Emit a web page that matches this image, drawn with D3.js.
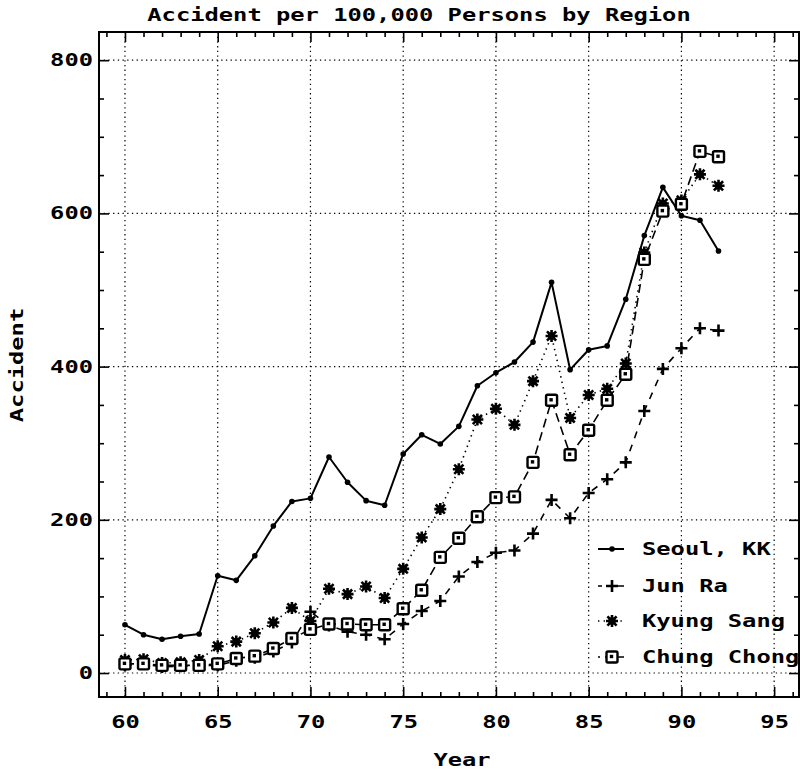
<!DOCTYPE html>
<html>
<head>
<meta charset="utf-8">
<script src="https://cdn.jsdelivr.net/npm/d3@7/dist/d3.min.js"></script>
<style>
  body { margin: 0; background: #fff; }
  text { font-family: "DejaVu Sans Mono", monospace; font-weight: bold; fill: #000; }
</style>
</head>
<body>
<svg id="chart" width="808" height="774"></svg>
<script>
// Accident rate per 100,000 persons, by region, 1960-1992
const years = [60, 61, 62, 63, 64, 65, 66, 67, 68, 69, 70, 71, 72, 73, 74, 75, 76,
               77, 78, 79, 80, 81, 82, 83, 84, 85, 86, 87, 88, 89, 90, 91, 92];

const seoul = [63, 50, 44, 48, 51, 127, 121, 153, 192, 224, 228, 282, 249, 225, 219, 286, 311,
               299, 322, 375, 392, 406, 432, 510, 396, 422, 427, 488, 571, 634, 597, 591, 551];

const junRa = [10, 12, 8, 9, 10, 10, 16, 20, 28, 40, 80, 62, 54, 50, 44, 64, 81,
               94, 126, 145, 157, 160, 182, 226, 202, 235, 253, 275, 342, 397, 424, 450, 447];

const kyungSang = [17, 18, 13, 14, 17, 35, 41, 52, 66, 85, 68, 110, 103, 113, 98, 136, 177,
                   214, 266, 331, 345, 324, 381, 440, 333, 363, 371, 404, 549, 613, 617, 651, 636];

const chungChong = [12, 12, 10, 10, 10, 12, 19, 22, 32, 45, 57, 64, 64, 63, 63, 84, 108,
                    151, 176, 204, 229, 230, 275, 356, 285, 317, 356, 390, 540, 603, 612, 681, 674];

const seriesNames = ["Seoul, KK", "Jun Ra", "Kyung Sang", "Chung Chong"];

const xMajor = [60, 65, 70, 75, 80, 85, 90, 95];
const xMinor = [59, 61, 62, 63, 64, 66, 67, 68, 69, 71, 72, 73, 74, 76, 77, 78, 79,
                81, 82, 83, 84, 86, 87, 88, 89, 91, 92, 93, 94, 96];
const yMajor = [0, 200, 400, 600, 800];
const yMinor = [50, 100, 150, 250, 300, 350, 450, 500, 550, 650, 700, 750];

const titleText = "Accident per 100,000 Persons by Region";
const xTitle = "Year";
const yTitle = "Accident";

// ---- layout ----
const plot = { left: 99, right: 799, top: 32, bottom: 697 };
const charW = 14.3;         // wide plotter-style lettering
const fontSize = 17;

const svg = d3.select("#chart");

const x = d3.scaleLinear().domain([58.6, 96.34]).range([plot.left, plot.right]);
const y = d3.scaleLinear().domain([-31.3, 836.8]).range([plot.bottom, plot.top]);

function widen(sel) {
  sel.each(function () {
    const t = d3.select(this);
    const n = t.text().length;
    t.attr("textLength", n * charW).attr("lengthAdjust", "spacingAndGlyphs");
  });
}

// ---- grid ----
const grid = svg.append("g").attr("stroke", "#000").attr("stroke-width", 1.2)
  .attr("stroke-dasharray", "1.3,3.4");
grid.selectAll("line.gx").data(xMajor).join("line")
  .attr("x1", d => x(d)).attr("x2", d => x(d))
  .attr("y1", plot.top).attr("y2", plot.bottom);
grid.selectAll("line.gy").data(yMajor).join("line")
  .attr("y1", d => y(d)).attr("y2", d => y(d))
  .attr("x1", plot.left).attr("x2", plot.right);

// ---- axes (ticks point inward on all four sides) ----
function styleAxis(g) {
  g.select(".domain").remove();
  g.selectAll(".tick line").attr("stroke", "#000").attr("stroke-width", 1.6);
  g.selectAll(".tick text").attr("font-size", fontSize);
}

svg.append("g").attr("transform", `translate(0,${plot.bottom})`)
  .call(d3.axisBottom(x).tickValues(xMajor).tickSize(-10).tickPadding(19).tickFormat(d => d))
  .call(styleAxis).call(g => widen(g.selectAll(".tick text")));
svg.append("g").attr("transform", `translate(0,${plot.bottom})`)
  .call(d3.axisBottom(x).tickValues(xMinor).tickSize(-5).tickFormat(""))
  .call(styleAxis);
svg.append("g").attr("transform", `translate(0,${plot.top})`)
  .call(d3.axisTop(x).tickValues(xMajor).tickSize(-10).tickFormat(""))
  .call(styleAxis);
svg.append("g").attr("transform", `translate(0,${plot.top})`)
  .call(d3.axisTop(x).tickValues(xMinor).tickSize(-5).tickFormat(""))
  .call(styleAxis);

svg.append("g").attr("transform", `translate(${plot.left},0)`)
  .call(d3.axisLeft(y).tickValues(yMajor).tickSize(-10).tickPadding(6).tickFormat(d => d))
  .call(styleAxis).call(g => widen(g.selectAll(".tick text")));
svg.append("g").attr("transform", `translate(${plot.left},0)`)
  .call(d3.axisLeft(y).tickValues(yMinor).tickSize(-5).tickFormat(""))
  .call(styleAxis);
svg.append("g").attr("transform", `translate(${plot.right},0)`)
  .call(d3.axisRight(y).tickValues(yMajor).tickSize(-10).tickFormat(""))
  .call(styleAxis);
svg.append("g").attr("transform", `translate(${plot.right},0)`)
  .call(d3.axisRight(y).tickValues(yMinor).tickSize(-5).tickFormat(""))
  .call(styleAxis);

// frame
svg.append("rect")
  .attr("x", plot.left).attr("y", plot.top)
  .attr("width", plot.right - plot.left).attr("height", plot.bottom - plot.top)
  .attr("fill", "none").attr("stroke", "#000").attr("stroke-width", 2);

// ---- titles ----
svg.append("text").attr("x", 419).attr("y", 21).attr("text-anchor", "middle")
  .attr("font-size", fontSize).text(titleText).call(widen);
svg.append("text").attr("x", 462).attr("y", 766).attr("text-anchor", "middle")
  .attr("font-size", fontSize).text(xTitle).call(widen);
svg.append("text").attr("transform", "translate(23,365) rotate(-90)")
  .attr("text-anchor", "middle").attr("font-size", fontSize).text(yTitle).call(widen);

// ---- marker shapes ----
const markers = {
  dot: g => g.append("circle").attr("r", 2.8).attr("fill", "#000"),
  plus: g => g.append("path").attr("d", "M-6,0H6M0,-6V6")
    .attr("stroke", "#000").attr("stroke-width", 2.6).attr("fill", "none"),
  star: g => {
    g.append("path")
      .attr("d", "M-6,0H6M0,-6V6M-4.6,-4.6L4.6,4.6M-4.6,4.6L4.6,-4.6")
      .attr("stroke", "#000").attr("stroke-width", 2.6).attr("fill", "none");
    g.append("rect").attr("x", -3.5).attr("y", -3.5).attr("width", 7).attr("height", 7).attr("fill", "#000");
  },
  square: g => {
    g.append("rect").attr("x", -5.5).attr("y", -5.5).attr("width", 11).attr("height", 11)
      .attr("rx", 1.5).attr("fill", "#fff").attr("stroke", "#000").attr("stroke-width", 2.4);
    g.append("rect").attr("x", -2.2).attr("y", -2.2).attr("width", 3.4).attr("height", 3.4).attr("fill", "#000");
  }
};

const series = [
  { name: seriesNames[0], values: seoul,      dash: null,      legendDash: null,        width: 2.0, marker: "dot" },
  { name: seriesNames[1], values: junRa,      dash: "7,7",     legendDash: "4,5,17",    width: 1.6, marker: "plus" },
  { name: seriesNames[2], values: kyungSang,  dash: "1.4,4.2", legendDash: "1.4,4.2",   width: 1.6, marker: "star" },
  { name: seriesNames[3], values: chungChong, dash: "9,5",     legendDash: "2,5,19",    width: 1.6, marker: "square" }
];

const line = d3.line().x(d => x(d[0])).y(d => y(d[1]));

series.forEach(s => {
  const pts = years.map((yr, i) => [yr, s.values[i]]);
  svg.append("path").datum(pts)
    .attr("d", line).attr("fill", "none").attr("stroke", "#000")
    .attr("stroke-width", s.width).attr("stroke-linejoin", "round")
    .attr("stroke-dasharray", s.dash);
});
series.forEach(s => {
  const pts = years.map((yr, i) => [yr, s.values[i]]);
  svg.append("g").selectAll("g").data(pts).join("g")
    .attr("transform", d => `translate(${x(d[0])},${y(d[1])})`)
    .each(function () { markers[s.marker](d3.select(this)); });
});

// ---- legend ----
const legendRows = [549, 586, 621, 657];
const lg = svg.append("g");
series.forEach((s, i) => {
  const row = lg.append("g").attr("transform", `translate(0,${legendRows[i]})`);
  row.append("line").attr("x1", 598).attr("x2", 624).attr("y1", 0).attr("y2", 0)
    .attr("stroke", "#000").attr("stroke-width", s.width)
    .attr("stroke-dasharray", s.legendDash);
  markers[s.marker](row.append("g").attr("transform", "translate(612,0)"));
  row.append("text").attr("x", 642).attr("y", 6).attr("font-size", fontSize)
    .text(s.name).call(widen);
});
</script>
</body>
</html>
